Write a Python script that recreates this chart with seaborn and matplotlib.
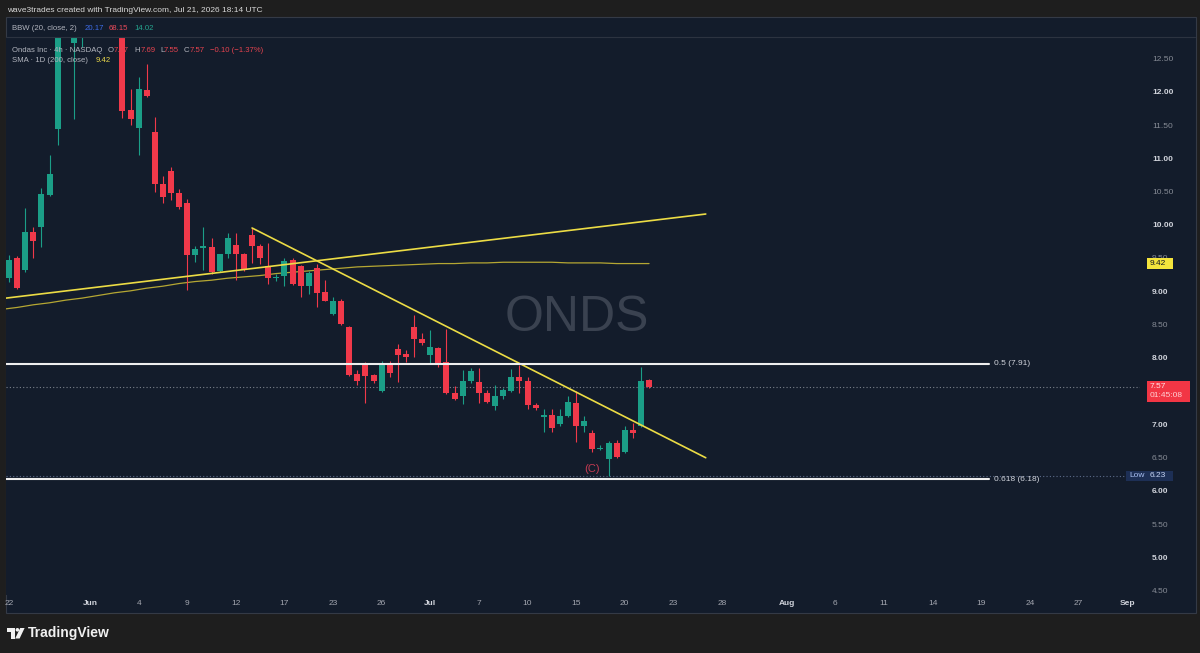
import numpy as np
import pandas as pd
import seaborn as sns
import matplotlib.pyplot as plt
import matplotlib.transforms as mtransforms
from matplotlib.patches import Rectangle, Polygon, Circle

# ONDS 4h candles, two bars per session, starting May 22
opens = [9.20, 9.51, 9.32, 9.90, 9.97, 10.45, 11.44, 13.05, 12.74, 13.30,
         13.90, 14.30, 13.50, 13.70, 13.20, 11.73, 11.46, 12.03, 11.40, 10.61,
         10.81, 10.48, 10.33, 9.55, 9.66, 9.67, 9.31, 9.56, 9.70, 9.57,
         9.85, 9.69, 9.38, 9.20, 9.23, 9.47, 9.38, 9.08, 9.36, 8.99,
         8.66, 8.85, 8.47, 7.76, 7.92, 7.74, 7.50, 7.92, 8.14, 8.06,
         8.47, 8.29, 8.05, 8.15, 7.94, 7.48, 7.43, 7.66, 7.64, 7.48,
         7.28, 7.43, 7.51, 7.71, 7.66, 7.29, 7.11, 7.14, 7.00, 7.13,
         7.33, 6.98, 6.87, 6.63, 6.48, 6.72, 6.58, 6.92, 6.97, 7.67]
highs = [9.55, 9.53, 10.25, 9.97, 10.55, 11.05, 13.20, 13.60, 13.50, 14.20,
         14.60, 14.50, 13.90, 13.90, 13.40, 12.04, 12.22, 12.42, 11.63, 10.74,
         10.87, 10.54, 10.39, 9.68, 9.97, 9.81, 9.57, 9.88, 9.88, 9.58,
         9.96, 9.72, 9.73, 9.26, 9.50, 9.50, 9.40, 9.31, 9.42, 9.17,
         8.91, 8.88, 8.48, 7.82, 7.94, 7.76, 7.96, 7.95, 8.21, 8.12,
         8.65, 8.38, 8.42, 8.16, 8.44, 7.58, 7.82, 7.85, 7.85, 7.52,
         7.60, 7.55, 7.83, 7.90, 7.72, 7.32, 7.24, 7.24, 7.24, 7.43,
         7.50, 7.13, 6.92, 6.69, 6.75, 6.76, 6.97, 7.02, 7.87, 7.69]
lows = [9.15, 9.04, 9.30, 9.51, 9.67, 10.44, 11.21, 12.95, 11.59, 12.68,
        13.60, 13.30, 13.00, 12.95, 11.61, 11.51, 11.05, 11.93, 10.50, 10.33,
        10.37, 10.24, 9.02, 9.45, 9.32, 9.27, 9.30, 9.51, 9.18, 9.31,
        9.43, 9.42, 9.12, 9.16, 9.08, 9.10, 8.91, 8.96, 8.77, 8.85,
        8.65, 8.50, 7.73, 7.59, 7.32, 7.63, 7.49, 7.72, 7.64, 7.94,
        8.02, 8.20, 7.93, 7.86, 7.46, 7.37, 7.31, 7.62, 7.32, 7.32,
        7.22, 7.39, 7.49, 7.47, 7.24, 7.22, 6.88, 6.89, 6.97, 7.12,
        6.74, 6.89, 6.58, 6.62, 6.23, 6.49, 6.57, 6.79, 6.96, 7.55]
closes = [9.47, 9.05, 9.89, 9.76, 10.47, 10.77, 13.05, 13.40, 13.30, 13.90,
          14.30, 13.50, 13.70, 13.20, 11.72, 11.59, 12.05, 11.94, 10.61, 10.42,
          10.48, 10.27, 9.55, 9.64, 9.68, 9.29, 9.56, 9.81, 9.57, 9.33,
          9.69, 9.51, 9.21, 9.21, 9.46, 9.12, 9.08, 9.28, 8.97, 8.86,
          8.85, 8.51, 7.74, 7.65, 7.73, 7.65, 7.92, 7.77, 8.05, 8.01,
          8.28, 8.23, 8.16, 7.92, 7.47, 7.39, 7.66, 7.80, 7.47, 7.34,
          7.43, 7.52, 7.71, 7.66, 7.29, 7.25, 7.14, 6.94, 7.13, 7.34,
          6.98, 7.05, 6.63, 6.65, 6.72, 6.51, 6.92, 6.87, 7.66, 7.57]

# SMA 1D (200), one value per session, starting the session before May 22
sma_values = [8.73, 8.76, 8.80, 8.83, 8.87, 8.90, 8.94, 8.98, 9.01, 9.05,
              9.08, 9.12, 9.15, 9.17, 9.20, 9.22, 9.24, 9.27, 9.29, 9.31,
              9.33, 9.35, 9.37, 9.38, 9.39, 9.40, 9.41, 9.42, 9.42, 9.43,
              9.43, 9.44, 9.44, 9.44, 9.44, 9.43, 9.43, 9.43, 9.42, 9.42, 9.42]

# hand drawn lines: end points as (bar index, price)
rise_bars = [-0.4, 86.0]
rise_prices = [8.90, 10.165]
fall_bars = [30.0, 86.0]
fall_prices = [9.955, 6.50]

fib_labels = ['0.5 (7.91)', '0.618 (6.18)']
fib_prices = [7.91, 6.18]
fib_end_bar = 121

wave_label = '(C)'
wave_bar = 72
wave_price = 6.33

yticks = [4.5, 5.0, 5.5, 6.0, 6.5, 7.0, 8.0, 8.5, 9.0, 9.5, 10.0, 10.5,
          11.0, 11.5, 12.0, 12.5]

holidays = ['2026-05-25', '2026-06-19', '2026-07-03', '2026-09-07']
tick_dates = ['2026-05-22', '2026-06-01', '2026-06-04', '2026-06-09', '2026-06-12',
              '2026-06-17', '2026-06-23', '2026-06-26', '2026-07-01', '2026-07-07',
              '2026-07-10', '2026-07-15', '2026-07-20', '2026-07-23', '2026-07-28',
              '2026-08-03', '2026-08-06', '2026-08-11', '2026-08-14', '2026-08-19',
              '2026-08-24', '2026-08-27', '2026-09-01']
tick_labels = ['22', 'Jun', '4', '9', '12', '17', '23', '26', 'Jul', '7', '10', '15',
               '20', '23', '28', 'Aug', '6', '11', '14', '19', '24', '27', 'Sep']

# COLOURS
OUTER = '#1e1e1e'
PANEL = '#131c2b'
UP = '#1b9e87'
DOWN = '#f0394a'
YELLOW = '#ecdc45'
GRAY = '#b2b5be'

# trading calendar -> bar index (2 bars per session)
days = pd.bdate_range('2026-05-22', '2026-09-10')
days = days[~days.isin(pd.to_datetime(holidays))]
day_bar = {d: 2 * k for k, d in enumerate(days)}
tick_pos = [day_bar[pd.Timestamp(d)] for d in tick_dates]

df = pd.DataFrame({'bar': np.arange(len(opens)), 'open': opens, 'high': highs,
                   'low': lows, 'close': closes})
df['color'] = np.where(df['close'] >= df['open'], UP, DOWN)
sma = pd.DataFrame({'bar': np.arange(len(sma_values)) * 2 - 1, 'sma': sma_values})

sns.set_theme(style='dark')
plt.rcParams['font.family'] = ['Liberation Sans', 'DejaVu Sans']

W, H = 1200, 653
fig = plt.figure(figsize=(12, 6.53), dpi=100, facecolor=OUTER)
px = mtransforms.Affine2D().scale(1 / W, -1 / H).translate(0, 1) + fig.transFigure

fig.patches.append(Rectangle((5.5, 17), 1190, 596, transform=px, facecolor=PANEL,
                             edgecolor='#343a46', lw=0.8, zorder=-5))
fig.lines.append(plt.Line2D([6, 1195], [36.5, 36.5], transform=px, color='#2c3340', lw=0.8))

ax = fig.add_axes([6 / W, 1 - 595 / H, 1134 / W, 557 / H])
ax.set_facecolor(PANEL)
ax.set_xlim(-0.37, 139.6)
ax.set_ylim(4.436, 12.812)

# candles
ax.vlines(df['bar'], df['low'], df['high'], colors=df['color'], lw=0.8, zorder=3)
ax.bar(df['bar'], (df['close'] - df['open']).abs().clip(lower=0.012),
       bottom=df[['open', 'close']].min(axis=1), width=0.74, color=df['color'],
       linewidth=0, zorder=4)

# SMA and trend lines
sns.lineplot(data=sma, x='bar', y='sma', ax=ax, color='#b5a733', lw=0.9, zorder=2)
sns.lineplot(x=rise_bars, y=rise_prices, ax=ax, color=YELLOW, lw=1.2, zorder=5)
sns.lineplot(x=fall_bars, y=fall_prices, ax=ax, color=YELLOW, lw=1.2, zorder=5)

# fib levels
for lab, p in zip(fib_labels, fib_prices):
    ax.plot([-5, fib_end_bar], [p, p], color='#eeeeee', lw=1.5, zorder=5)
    ax.text(fib_end_bar + 0.6, p, lab, color='#d1d4dc', fontsize=6, va='center', ha='left')

# price lines
ax.axhline(closes[-1], color='#7b818c', lw=0.8, ls=(0, (1, 2)), zorder=1)
ax.axhline(min(lows), xmax=(1126 - 6) / 1134, color='#5d6d8c', lw=0.8, ls=(0, (1, 2)), zorder=1)

ax.text(wave_bar, wave_price, wave_label, color='#c23a52', fontsize=8, ha='center', va='center')
ax.text(577, 318, 'ONDS', transform=px, color='#3a4250', fontsize=36, ha='center',
        va='center', zorder=0.5)

# axes
ax.set_xticks(tick_pos)
ax.set_xticklabels(tick_labels)
ax.yaxis.tick_right()
ax.set_yticks(yticks)
ax.set_yticklabels([f'{v:.2f}' for v in yticks])
ax.tick_params(axis='x', length=0, pad=3.6, labelsize=6, colors='#a3a6af')
ax.tick_params(axis='y', length=0, pad=8.6, labelsize=6)
for t in ax.get_xticklabels():
    if t.get_text() in ('Jun', 'Jul', 'Aug', 'Sep'):
        t.set_color('#d1d4dc')
        t.set_fontweight('bold')
for t, v in zip(ax.get_yticklabels(), yticks):
    if v == int(v):
        t.set_color('#d1d4dc')
        t.set_fontweight('bold')
    else:
        t.set_color('#868b95')
    if v == 9.5:
        t.set_alpha(0.0)
ax.set_xlabel('')
ax.set_ylabel('')
ax.grid(False)
for s in ax.spines.values():
    s.set_visible(False)

# price scale tags
ytr = ax.get_yaxis_transform()
def xf(p):
    return (p - 6) / 1134

ax.add_patch(Rectangle((xf(1147), sma_values[-1] - 0.08), 26 / 1134, 0.16, transform=ytr,
                       facecolor='#f4e43c', lw=0, clip_on=False, zorder=6))
ax.text(xf(1150), sma_values[-1], f'{sma_values[-1]:.2f}', transform=ytr, color='#131722',
        fontsize=6, va='center', clip_on=False, zorder=7)
ax.add_patch(Rectangle((xf(1147), closes[-1] - 0.23), 43 / 1134, 0.32, transform=ytr,
                       facecolor='#f23645', lw=0, clip_on=False, zorder=6))
ax.text(xf(1150), closes[-1], f'{closes[-1]:.2f}', transform=ytr, color='#ffe3e5',
        fontsize=6, va='center', clip_on=False, zorder=7)
ax.text(xf(1150), closes[-1] - 0.14, '01:45:08', transform=ytr, color='#ffd0d4',
        fontsize=6, va='center', clip_on=False, zorder=7)
ax.add_patch(Rectangle((xf(1126), min(lows) - 0.075), 47 / 1134, 0.15, transform=ytr,
                       facecolor='#1d2f55', lw=0, clip_on=False, zorder=6))
ax.text(xf(1129), min(lows), 'Low', transform=ytr, color='#a9bff0', fontsize=6,
        va='center', clip_on=False, zorder=7)
ax.text(xf(1150), min(lows), f'{min(lows):.2f}', transform=ytr, color='#c8d6f5',
        fontsize=6, va='center', clip_on=False, zorder=7)
# upper half of the 9.50 label peeks out above the SMA tag
ax.text(xf(1152), 9.5, '9.50', transform=ytr, color='#868b95', fontsize=6,
        va='center', clip_on=False, zorder=5.5)

# header and legend texts
def put(x, y, s, c, size=5.6, **kw):
    fig.text(x, y, s, transform=px, color=c, fontsize=size, va='center', ha='left', **kw)

put(7, 10, 'wave3trades created with TradingView.com, Jul 21, 2026 18:14 UTC', '#d8d8d8', size=6)
put(11.7, 28, 'BBW (20, close, 2)', GRAY)
put(85, 28, '20.17', '#3d6ce8')
put(109, 28, '68.15', '#e84a5a')
put(134, 28, '14.02', '#25a38e')
put(11.7, 50, 'Ondas Inc · 4h · NASDAQ', GRAY)
red = '#e5434f'
put(108, 50, 'O', GRAY)
put(114, 50, f'{opens[-1]:.2f}', red)
put(134, 50, 'H', GRAY)
put(140.5, 50, f'{highs[-1]:.2f}', red)
put(160.5, 50, 'L', GRAY)
put(164, 50, f'{lows[-1]:.2f}', red)
put(184, 50, 'C', GRAY)
put(189.5, 50, f'{closes[-1]:.2f}', red)
put(210.5, 50, '−0.10 (−1.37%)', red)
put(11.7, 61, 'SMA · 1D (200, close)', GRAY)
put(96, 61, f'{sma_values[-1]:.2f}', '#e8d64a')

# footer logo
for shape in [Rectangle((7, 628), 7.5, 3.5), Rectangle((11, 628), 3.5, 10.5),
              Circle((17.4, 629.8), 1.8),
              Polygon([(20.2, 628), (24.6, 628), (19.6, 638.5), (15.2, 638.5)])]:
    shape.set_transform(px)
    shape.set_facecolor('#f0f0f0')
    shape.set_edgecolor('none')
    fig.patches.append(shape)
fig.text(28, 633, 'TradingView', transform=px, color='#f0f0f0', fontsize=10,
         fontweight='bold', va='center', ha='left')

fig.savefig('out.png', dpi=100, facecolor=OUTER)
